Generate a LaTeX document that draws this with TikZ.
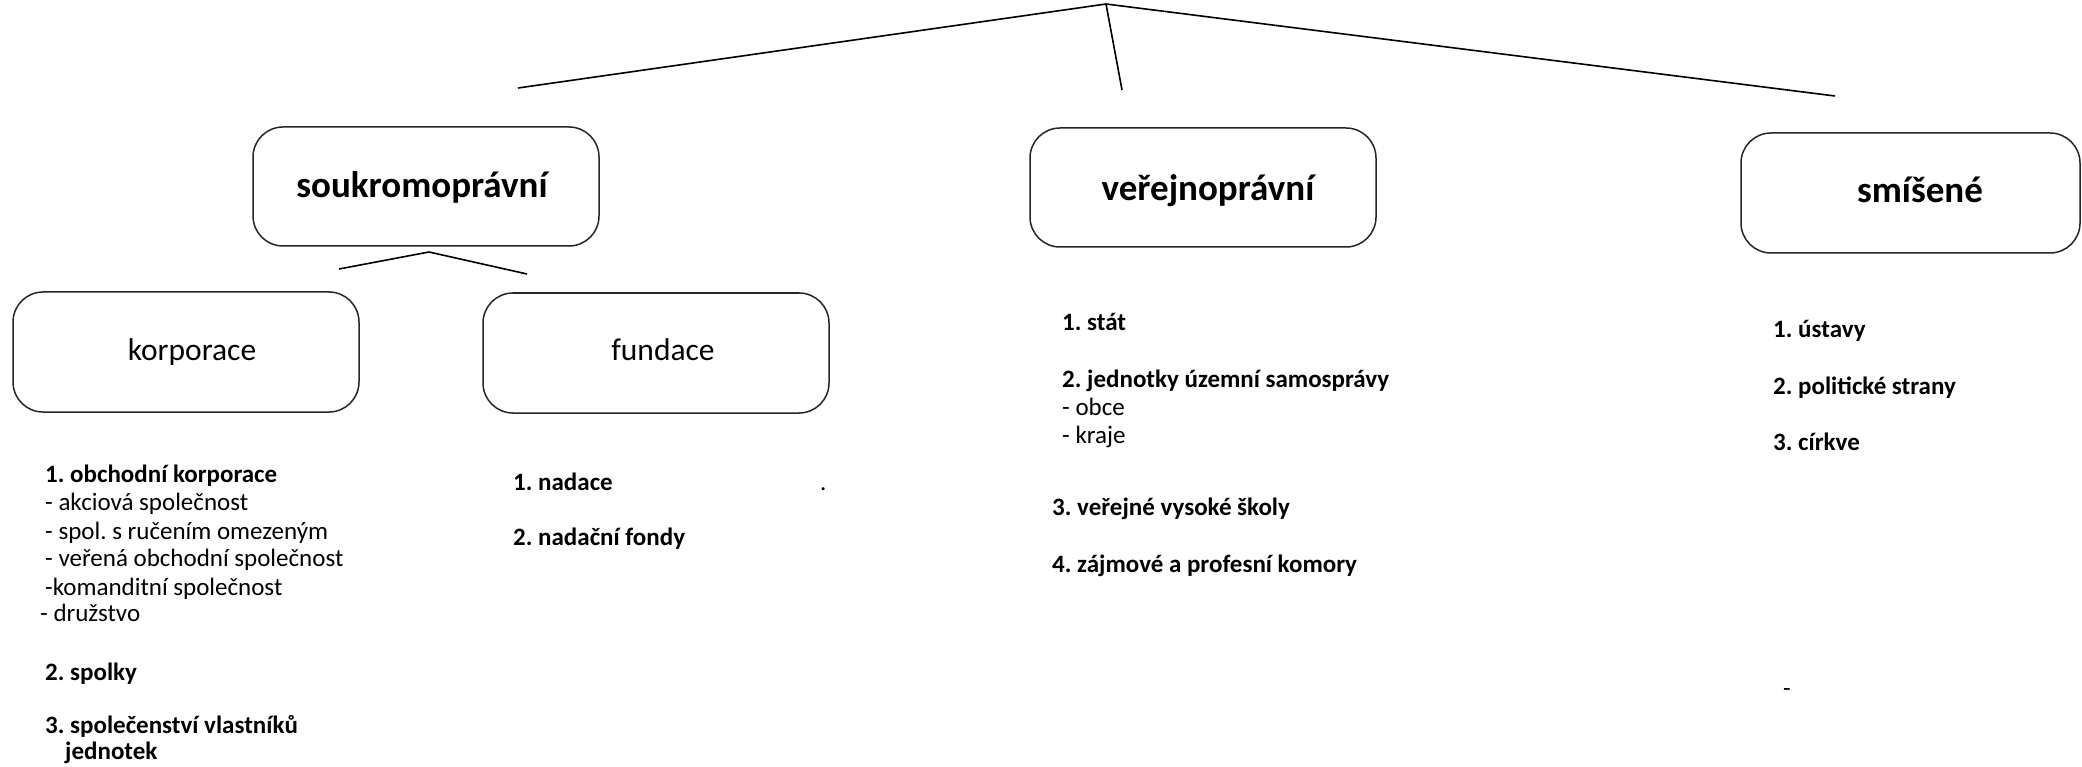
\documentclass[tikz,border=0pt]{standalone}
\usepackage{fontspec}
\setmainfont{Carlito}
\begin{document}
\frenchspacing
\begin{tikzpicture}[x=1pt,y=-1pt,
  box/.style={draw=black!85, line width=1.5pt, rounded corners=30pt, inner sep=0pt},
  conn/.style={draw=black, line width=1.6pt},
  title/.style={font=\fontsize{37}{44}\selectfont\bfseries, inner sep=0pt},
  subtitle/.style={font=\fontsize{31.5}{38}\selectfont, inner sep=0pt},
  item/.style={font=\fontsize{25}{28}\selectfont, anchor=base west, inner sep=0pt},
  bitem/.style={item, font=\fontsize{25}{28}\selectfont\bfseries}]
\useasboundingbox[fill=white] (0,0) rectangle (2082,767);

% boxes
\node[box, minimum width=346pt, minimum height=119pt] (bsouk) at (426,186.5) {};
\node[box, minimum width=346pt, minimum height=119pt] (bver) at (1203,187.5) {};
\node[box, minimum width=339pt, minimum height=120pt] (bsmis) at (1910.5,193) {};
\node[box, minimum width=346pt, minimum height=120pt] (bkorp) at (186,352) {};
\node[box, minimum width=346pt, minimum height=120pt] (bfund) at (656,353) {};

% titles
\node[title] (tsouk) at (422,187) {soukromoprávní};
\node[title] (tver) at (1208,191) {veřejnoprávní};
\node[title] (tsmis) at (1920,190) {smíšené};
\node[subtitle] (tkorp) at (192,352) {korporace};
\node[subtitle] (tfund) at (663,350) {fundace};

% connectors
\coordinate (apex) at (1106,4);
\coordinate (eL) at (518,88);
\coordinate (eM) at (1122,90);
\coordinate (eR) at (1835,96);
\draw[conn] (eL) -- (apex) -- (eR);
\draw[conn] (apex) -- (eM);
\coordinate (apexb) at (429,252);
\coordinate (fL) at (339,269);
\coordinate (fR) at (527,274);
\draw[conn] (fL) -- (apexb) -- (fR);

% korporace list
\node[bitem] (k1) at (45,482) {1. obchodní korporace};
\node[item] (k2) at (45,510) {- akciová společnost};
\node[item] (k3) at (45,539) {- spol. s ručením omezeným};
\node[item] (k4) at (45,566) {- veřená obchodní společnost};
\node[item] (k5) at (45,595) {-komanditní společnost};
\node[item] (k6) at (40,621) {- družstvo};
\node[bitem] (k7) at (45,680) {2. spolky};
\node[bitem] (k8) at (45,733) {3. společenství vlastníků};
\node[bitem] (k9) at (65,759) {jednotek};

% fundace list
\node[bitem] (f1) at (513,490) {1. nadace};
\node[bitem] (f2) at (513,545) {2. nadační fondy};
\node[item] (fdot) at (820,490) {.};

% verejnopravni list
\node[bitem] (v1) at (1062,330) {1. stát};
\node[bitem] (v2) at (1062,387) {2. jednotky územní samosprávy};
\node[item] (v3) at (1062,415) {- obce};
\node[item] (v4) at (1062,443) {- kraje};
\node[bitem] (v5) at (1052,515) {3. veřejné vysoké školy};
\node[bitem] (v6) at (1052,572) {4. zájmové a profesní komory};

% smisene list
\node[bitem] (s1) at (1773,337) {1. ústavy};
\node[bitem] (s2) at (1773,394) {2. politické strany};
\node[bitem] (s3) at (1773,450) {3. církve};
\node[item] (sdash) at (1783,696) {-};
\end{tikzpicture}
\end{document}
